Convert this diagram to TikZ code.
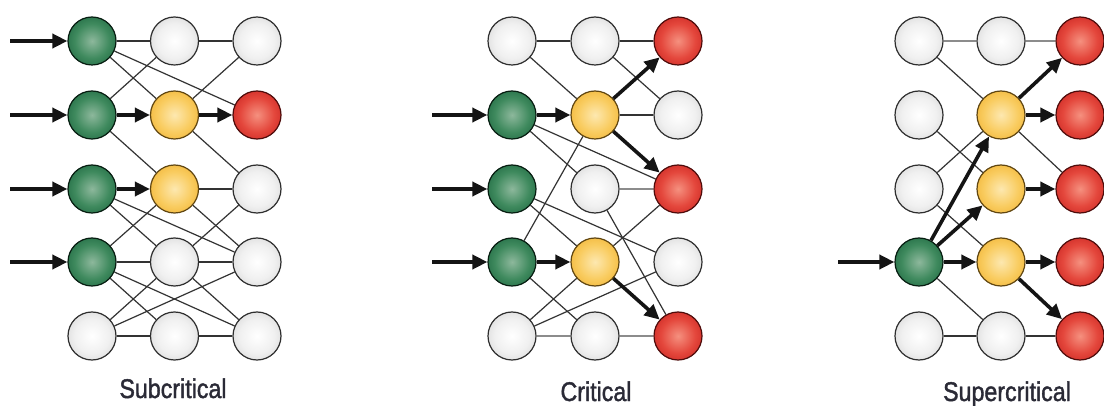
\documentclass[tikz,border=0pt]{standalone}
\usepackage{fontspec}
\setmainfont{Liberation Sans}
\newfontfamily\lblfont[FakeBold=1.6]{Liberation Sans}
\usetikzlibrary{arrows.meta}
\pgfdeclarelayer{edges}
\pgfsetlayers{edges,main}
\definecolor{gIn}{HTML}{8DB89C}
\definecolor{gMid}{HTML}{3F8A5E}
\definecolor{gOut}{HTML}{17603A}
\definecolor{yIn}{HTML}{FDE8B0}
\definecolor{yMid}{HTML}{F9CC60}
\definecolor{yOut}{HTML}{EFAE2A}
\definecolor{rIn}{HTML}{F5907F}
\definecolor{rMid}{HTML}{E4473C}
\definecolor{rOut}{HTML}{C41E1C}
\definecolor{wIn}{HTML}{FFFFFF}
\definecolor{wMid}{HTML}{F0F0F0}
\definecolor{wOut}{HTML}{D2D2D2}
\definecolor{txt}{HTML}{2A2A36}
\pgfdeclareradialshading{gball}{\pgfpointorigin}{color(0bp)=(gIn); color(18bp)=(gMid); color(35bp)=(gOut); color(50bp)=(gOut)}
\pgfdeclareradialshading{yball}{\pgfpointorigin}{color(0bp)=(yIn); color(18bp)=(yMid); color(35bp)=(yOut); color(50bp)=(yOut)}
\pgfdeclareradialshading{rball}{\pgfpointorigin}{color(0bp)=(rIn); color(18bp)=(rMid); color(35bp)=(rOut); color(50bp)=(rOut)}
\pgfdeclareradialshading{wball}{\pgfpointorigin}{color(0bp)=(wIn); color(18bp)=(wMid); color(35bp)=(wOut); color(50bp)=(wOut)}
\tikzset{
  ball/.style={circle, minimum size=48pt, inner sep=0pt, draw=black!82, line width=1.2pt},
  wn/.style={ball, shading=wball},
  gn/.style={ball, shading=gball, draw=black!70!gOut},
  yn/.style={ball, shading=yball, draw=black!60!yOut},
  rn/.style={ball, shading=rball, draw=black!60!rOut},
  ln/.style={draw=black!80, line width=1.2pt},
  lg/.style={draw=black!45, line width=1.4pt},
  arr/.style={draw=black!92, line width=3.6pt, -{Triangle[length=15pt,width=14pt]}},
  lbl/.style={anchor=base, text=txt, font=\lblfont\fontsize{27}{31}\selectfont},
}
\begin{document}
\begin{tikzpicture}[x=1pt,y=-1pt]
\useasboundingbox (0,0) rectangle (1104,406);
\begin{pgfonlayer}{edges}
\fill[white] (0,0) rectangle (1104,406);
\end{pgfonlayer}

% ---------------- Subcritical ----------------
\node[gn] (A11) at (92,41) {};
\node[wn] (A21) at (174.5,41) {};
\node[wn] (A31) at (257,41) {};
\node[gn] (A12) at (92,115) {};
\node[yn] (A22) at (174.5,115) {};
\node[rn] (A32) at (257,115) {};
\node[gn] (A13) at (92,189) {};
\node[yn] (A23) at (174.5,189) {};
\node[wn] (A33) at (257,189) {};
\node[gn] (A14) at (92,262) {};
\node[wn] (A24) at (174.5,262) {};
\node[wn] (A34) at (257,262) {};
\node[wn] (A15) at (92,336) {};
\node[wn] (A25) at (174.5,336) {};
\node[wn] (A35) at (257,336) {};
\coordinate (Ai1) at (10,41);
\coordinate (Ai2) at (10,115);
\coordinate (Ai3) at (10,189);
\coordinate (Ai4) at (10,262);

% ---------------- Critical ----------------
\node[wn] (B11) at (512,41) {};
\node[wn] (B21) at (595,41) {};
\node[rn] (B31) at (678,41) {};
\node[gn] (B12) at (512,115) {};
\node[yn] (B22) at (595,115) {};
\node[wn] (B32) at (678,115) {};
\node[gn] (B13) at (512,189) {};
\node[wn] (B23) at (595,189) {};
\node[rn] (B33) at (678,189) {};
\node[gn] (B14) at (512,262) {};
\node[yn] (B24) at (595,262) {};
\node[wn] (B34) at (678,262) {};
\node[wn] (B15) at (512,336) {};
\node[wn] (B25) at (595,336) {};
\node[rn] (B35) at (678,336) {};
\coordinate (Bi2) at (432,115);
\coordinate (Bi3) at (432,189);
\coordinate (Bi4) at (432,262);

% ---------------- Supercritical ----------------
\node[wn] (C11) at (919,41) {};
\node[wn] (C21) at (1001,41) {};
\node[rn] (C31) at (1080,41) {};
\node[wn] (C12) at (919,115) {};
\node[yn] (C22) at (1001,115) {};
\node[rn] (C32) at (1080,115) {};
\node[wn] (C13) at (919,189) {};
\node[yn] (C23) at (1001,189) {};
\node[rn] (C33) at (1080,189) {};
\node[gn] (C14) at (919,262) {};
\node[yn] (C24) at (1001,262) {};
\node[rn] (C34) at (1080,262) {};
\node[wn] (C15) at (919,336) {};
\node[wn] (C25) at (1001,336) {};
\node[rn] (C35) at (1080,336) {};
\coordinate (Ci4) at (838,262);

\begin{pgfonlayer}{edges}
% Subcritical lines
\draw[ln] (A11) -- (A21);
\draw[ln] (A21) -- (A31);
\draw[ln] (A11) -- (A22);
\draw[ln] (A11) -- (A32);
\draw[ln] (A12) -- (A21);
\draw[ln] (A31) -- (A22);
\draw[ln] (A12) -- (A23);
\draw[ln] (A22) -- (A33);
\draw[ln] (A23) -- (A33);
\draw[ln] (A13) -- (A24);
\draw[ln] (A13) -- (A34);
\draw[ln] (A23) -- (A34);
\draw[ln] (A33) -- (A24);
\draw[ln] (A23) -- (A14);
\draw[ln] (A14) -- (A24);
\draw[ln] (A24) -- (A34);
\draw[ln] (A14) -- (A25);
\draw[ln] (A14) -- (A35);
\draw[ln] (A24) -- (A35);
\draw[ln] (A24) -- (A15);
\draw[ln] (A15) -- (A34);
\draw[ln] (A15) -- (A25);
\draw[ln] (A25) -- (A35);
% Critical lines
\draw[ln] (B11) -- (B21);
\draw[ln] (B21) -- (B31);
\draw[ln] (B11) -- (B22);
\draw[ln] (B21) -- (B32);
\draw[ln] (B22) -- (B32);
\draw[ln] (B12) -- (B33);
\draw[ln] (B12) -- (B23);
\draw[ln] (B22) -- (B14);
\draw[lg] (B23) -- (B33);
\draw[ln] (B13) -- (B34);
\draw[ln] (B13) -- (B24);
\draw[ln] (B33) -- (B24);
\draw[ln] (B23) -- (B35);
\draw[ln] (B14) -- (B25);
\draw[ln] (B15) -- (B24);
\draw[ln] (B15) -- (B34);
\draw[lg] (B15) -- (B25);
\draw[lg] (B25) -- (B35);
% Supercritical lines
\draw[lg] (C11) -- (C21);
\draw[lg] (C21) -- (C31);
\draw[ln] (C11) -- (C22);
\draw[ln] (C12) -- (C23);
\draw[ln] (C22) -- (C33);
\draw[ln] (C13) -- (C22);
\draw[ln] (C13) -- (C24);
\draw[ln] (C14) -- (C25);
\draw[ln] (C15) -- (C25);
\draw[ln] (C25) -- (C35);
\end{pgfonlayer}

% arrows
\draw[arr] (Ai1) -- (A11);
\draw[arr] (Ai2) -- (A12);
\draw[arr] (Ai3) -- (A13);
\draw[arr] (Ai4) -- (A14);
\draw[arr] (A12) -- (A22);
\draw[arr] (A22) -- (A32);
\draw[arr] (A13) -- (A23);

\draw[arr] (Bi2) -- (B12);
\draw[arr] (Bi3) -- (B13);
\draw[arr] (Bi4) -- (B14);
\draw[arr] (B12) -- (B22);
\draw[arr] (B22) -- (B31);
\draw[arr] (B22) -- (B33);
\draw[arr] (B14) -- (B24);
\draw[arr] (B24) -- (B35);

\draw[arr] (Ci4) -- (C14);
\draw[arr] (C14) -- (C22);
\draw[arr] (C14) -- (C23);
\draw[arr] (C14) -- (C24);
\draw[arr] (C22) -- (C31);
\draw[arr] (C22) -- (C32);
\draw[arr] (C23) -- (C33);
\draw[arr] (C24) -- (C34);
\draw[arr] (C24) -- (C35);

% labels
\node[lbl] (L1) at (173,398) {\scalebox{0.86}[1]{Subcritical}};
\node[lbl] (L2) at (596,401) {\scalebox{0.86}[1]{Critical}};
\node[lbl] (L3) at (1007,401) {\scalebox{0.86}[1]{Supercritical}};
\end{tikzpicture}
\end{document}
